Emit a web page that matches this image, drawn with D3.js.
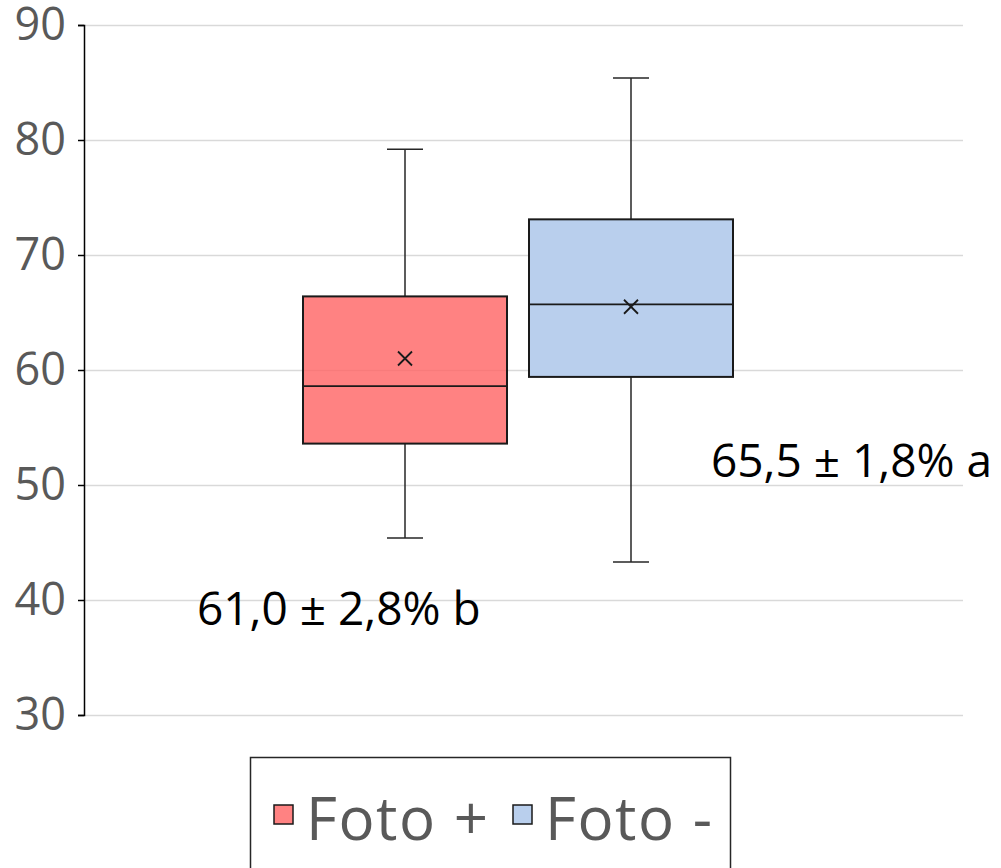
<!DOCTYPE html>
<html>
<head>
<meta charset="utf-8">
<script src="https://cdn.jsdelivr.net/npm/d3@7"></script>
<style>
  html, body { margin: 0; padding: 0; background: #fff; }
  svg { display: block; }
</style>
</head>
<body>
<svg id="chart" width="1001" height="868"></svg>
<script>
// Box plot: two treatment groups (Foto + / Foto -)
const seriesNames = ["Foto +", "Foto -"];
const seriesColors = ["rgba(255, 102, 102, 0.82)", "#b9cfed"];
const whiskerLow  = [45.4, 43.3];
const quartile1   = [53.6, 59.4];
const medians     = [58.6, 65.7];
const quartile3   = [66.4, 73.1];
const whiskerHigh = [79.2, 85.4];
const means       = [61.0, 65.5];
const annotations = ["61,0 ± 2,8% b", "65,5 ± 1,8% a"];
const yTicks = [30, 40, 50, 60, 70, 80, 90];

const svg = d3.select("#chart");

const plot = { left: 84, right: 963, top: 25, bottom: 715 };

const y = d3.scaleLinear().domain([30, 90]).range([plot.bottom, plot.top]);
const x = d3.scaleBand()
  .domain(seriesNames)
  .range([303, 733])
  .paddingInner(22 / 226);

// Horizontal gridlines
svg.append("g")
  .selectAll("line")
  .data(yTicks)
  .join("line")
  .attr("x1", plot.left).attr("x2", plot.right)
  .attr("y1", d => y(d) + 0.5).attr("y2", d => y(d) + 0.5)
  .attr("stroke", "#d9d9d9").attr("stroke-width", 1.5);

// Y axis
const yAxis = svg.append("g")
  .attr("transform", `translate(${plot.left},0)`)
  .call(d3.axisLeft(y).tickValues(yTicks).tickSize(6).tickPadding(12));
yAxis.select(".domain").attr("stroke", "#000").attr("stroke-width", 1.5);
yAxis.selectAll(".tick line").attr("stroke", "#000").attr("stroke-width", 1.5);
yAxis.selectAll(".tick text")
  .attr("fill", "#595959")
  .attr("font-family", "'Open Sans', sans-serif")
  .attr("font-size", 45);

// Boxes
const rows = seriesNames.map((name, i) => ({
  name, color: seriesColors[i],
  lo: whiskerLow[i], q1: quartile1[i], med: medians[i], q3: quartile3[i], hi: whiskerHigh[i], mean: means[i]
}));

const g = svg.append("g").selectAll("g").data(rows).join("g");
const cx = d => x(d.name) + x.bandwidth() / 2;

// Whiskers
g.append("line")
  .attr("x1", cx).attr("x2", cx)
  .attr("y1", d => y(d.hi)).attr("y2", d => y(d.q3))
  .attr("stroke", "#262626").attr("stroke-width", 1.5);
g.append("line")
  .attr("x1", cx).attr("x2", cx)
  .attr("y1", d => y(d.q1)).attr("y2", d => y(d.lo))
  .attr("stroke", "#262626").attr("stroke-width", 1.5);
g.append("line")
  .attr("x1", d => cx(d) - 18).attr("x2", d => cx(d) + 18)
  .attr("y1", d => y(d.hi)).attr("y2", d => y(d.hi))
  .attr("stroke", "#262626").attr("stroke-width", 1.5);
g.append("line")
  .attr("x1", d => cx(d) - 18).attr("x2", d => cx(d) + 18)
  .attr("y1", d => y(d.lo)).attr("y2", d => y(d.lo))
  .attr("stroke", "#262626").attr("stroke-width", 1.5);

// Interquartile box
g.append("rect")
  .attr("x", d => x(d.name))
  .attr("width", x.bandwidth())
  .attr("y", d => y(d.q3))
  .attr("height", d => y(d.q1) - y(d.q3))
  .attr("fill", d => d.color)
  .attr("stroke", "#1a1a1a").attr("stroke-width", 2);

// Median
g.append("line")
  .attr("x1", d => x(d.name)).attr("x2", d => x(d.name) + x.bandwidth())
  .attr("y1", d => y(d.med)).attr("y2", d => y(d.med))
  .attr("stroke", "#1a1a1a").attr("stroke-width", 1.8);

// Mean marker (x)
const m = 7;
g.append("path")
  .attr("d", d => {
    const px = cx(d), py = y(d.mean);
    return `M${px - m},${py - m}L${px + m},${py + m}M${px - m},${py + m}L${px + m},${py - m}`;
  })
  .attr("stroke", "#1a1a1a").attr("stroke-width", 1.8).attr("fill", "none");

// Mean ± error annotations
const annoPos = [
  { x: 197, y: 625 },
  { x: 711, y: 477 }
];
svg.append("g").selectAll("text")
  .data(annotations)
  .join("text")
  .attr("x", (d, i) => annoPos[i].x)
  .attr("y", (d, i) => annoPos[i].y)
  .attr("font-family", "'Open Sans', sans-serif")
  .attr("font-size", 46)
  .attr("fill", "#000")
  .text(d => d);

// Legend
const legend = svg.append("g");
legend.append("rect")
  .attr("x", 250.5).attr("y", 757.5)
  .attr("width", 480).attr("height", 130)
  .attr("fill", "#fff").attr("stroke", "#262626").attr("stroke-width", 1.5);
const legendItems = [
  { name: seriesNames[0], color: seriesColors[0], sx: 274, tx: 306 },
  { name: seriesNames[1], color: seriesColors[1], sx: 513, tx: 545 }
];
const li = legend.selectAll("g.item").data(legendItems).join("g").attr("class", "item");
li.append("rect")
  .attr("x", d => d.sx).attr("y", 805)
  .attr("width", 19).attr("height", 19)
  .attr("fill", d => d.color)
  .attr("stroke", "#1a1a1a").attr("stroke-width", 1.5);
li.append("text")
  .attr("x", d => d.tx).attr("y", 840)
  .attr("font-family", "'Open Sans', sans-serif")
  .attr("font-size", 60)
  .attr("letter-spacing", 1.5)
  .attr("fill", "#595959")
  .text(d => d.name);
</script>
</body>
</html>
